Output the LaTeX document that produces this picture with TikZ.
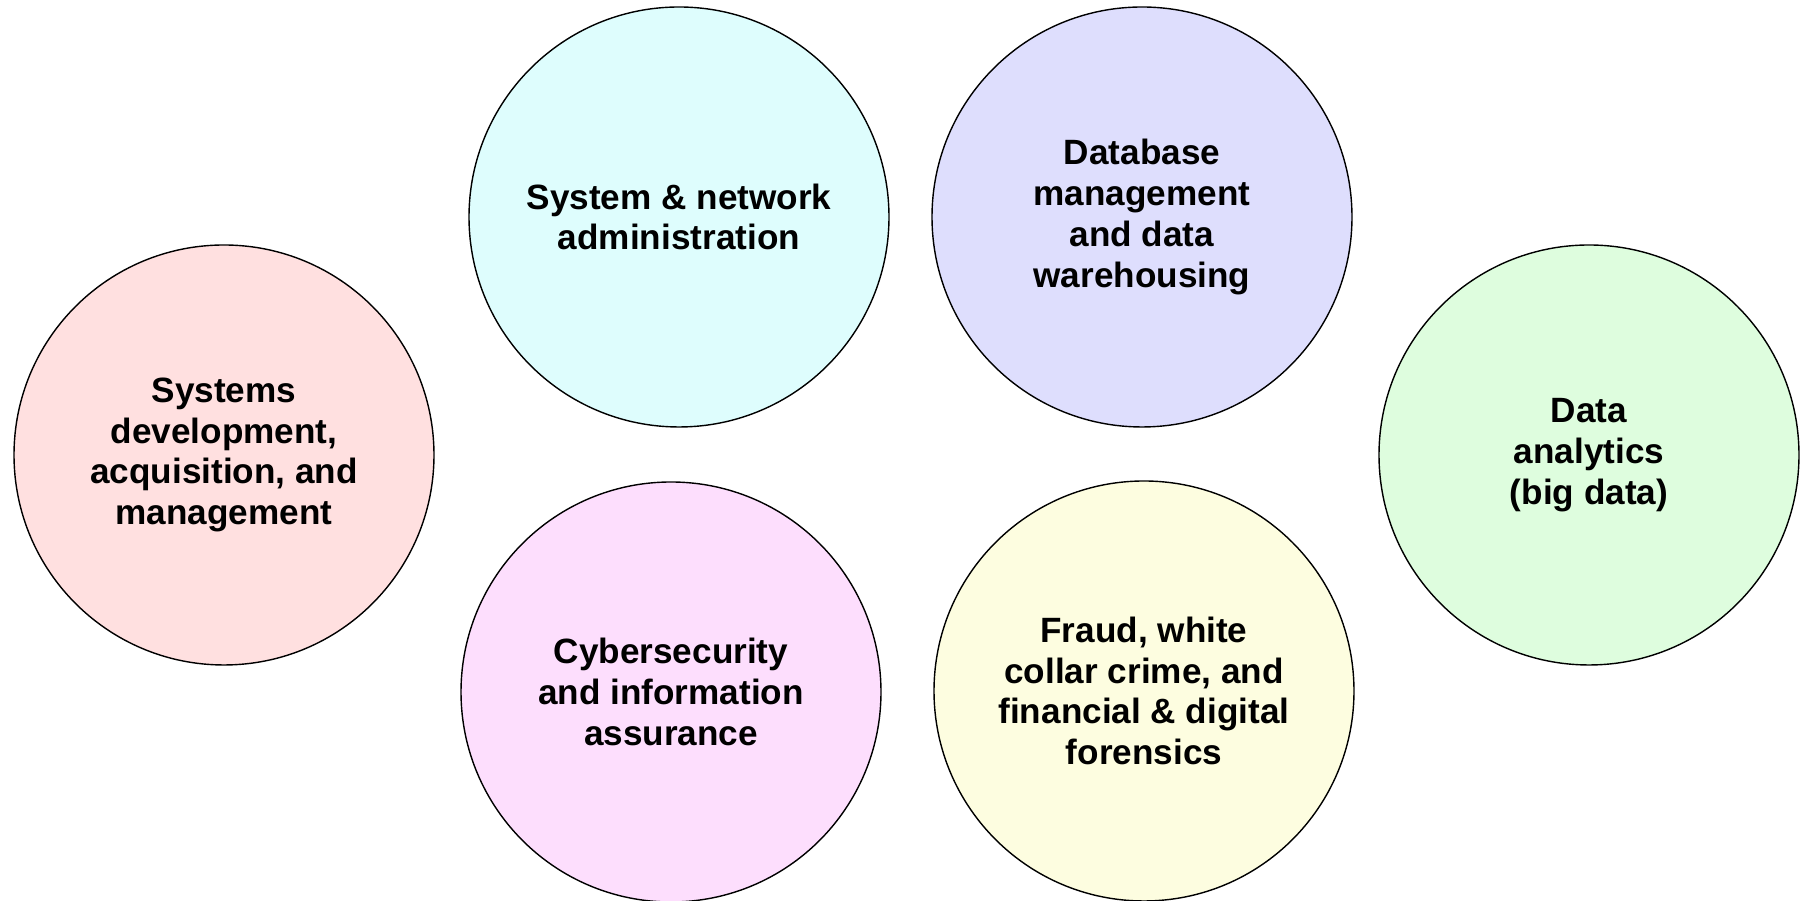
\documentclass[tikz,border=0pt]{standalone}
\usepackage{fontspec}
\setmainfont{Liberation Sans}
\usepackage{xcolor}
\usepackage{tikz}
\usetikzlibrary{positioning}

\definecolor{areaPink}{RGB}{255,224,224}
\definecolor{areaCyan}{RGB}{222,253,253}
\definecolor{areaLavender}{RGB}{222,222,253}
\definecolor{areaGreen}{RGB}{222,253,222}
\definecolor{areaMagenta}{RGB}{253,222,253}
\definecolor{areaYellow}{RGB}{253,253,224}

\begin{document}
\begin{tikzpicture}[
    topic/.style={circle, draw, line width=0.4pt, inner sep=0pt, minimum size=4.2cm, align=center, font=\bfseries\fontsize{10}{11.6}\selectfont}
]
    \useasboundingbox[fill=white] (0,0) rectangle (18.03,9.01);

    % Left and right
    \node[topic, fill=areaPink] (sysdev) at (2.24,4.46) {Systems\\development,\\acquisition, and\\management};
    \node[topic, fill=areaGreen] (analytics) at (15.89,4.46) {Data\\analytics\\(big data)};

    % Top row
    \node[topic, fill=areaCyan] (netadmin) at (6.79,6.84) {System \& network\\administration};
    \node[topic, fill=areaLavender] (database) at (11.42,6.84) {Database\\management\\and data\\warehousing};

    % Bottom row
    \node[topic, fill=areaMagenta] (cyber) at (6.71,2.09) {Cybersecurity\\and information\\assurance};
    \node[topic, fill=areaYellow] (fraud) at (11.44,2.10) {Fraud, white\\collar crime, and\\financial \& digital\\forensics};
\end{tikzpicture}
\end{document}
